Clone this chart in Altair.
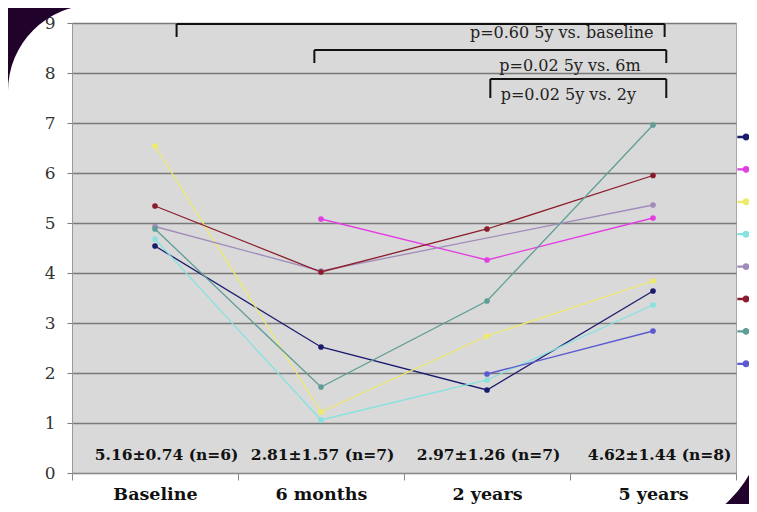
import altair as alt
import pandas as pd

categories = ["Baseline", "6 months", "2 years", "5 years"]
series_names = ["1", "2", "3", "4", "5", "6", "7", "8"]
series_colors = ["#1b1b6e", "#e23ee2", "#eeea6a", "#86e2e0", "#a08cba", "#8b1c2c", "#5f9e96", "#5a5ad0"]

s1 = [4.54, 2.52, 1.66, 3.64]
s2 = [None, 5.08, 4.26, 5.10]
s3 = [6.54, 1.22, 2.74, 3.84]
s4 = [4.68, 1.06, 1.86, 3.36]
s5 = [4.93, 4.04, None, 5.36]
s6 = [5.34, 4.02, 4.88, 5.95]
s7 = [4.88, 1.72, 3.44, 6.96]
s8 = [None, None, 1.98, 2.84]
all_series = [s1, s2, s3, s4, s5, s6, s7, s8]

stats_text = ["5.16\u00b10.74 (n=6)", "2.81\u00b11.57 (n=7)", "2.97\u00b11.26 (n=7)", "4.62\u00b11.44 (n=8)"]
stats_x = [0.07, 1.01, 2.01, 3.04]
stats_y = [0.36, 0.36, 0.36, 0.36]

p_text = ["p=0.60 5y vs. baseline", "p=0.02 5y vs. 6m", "p=0.02 5y vs. 2y"]
p_x = [2.45, 2.50, 2.49]
p_y = [8.80, 8.14, 7.56]
br_left = [0.13, 0.96, 2.02]
br_right = [3.07, 3.08, 3.08]
br_top = [8.98, 8.46, 7.88]
br_bottom = [8.72, 8.20, 7.50]

rows = []
for name, vals in zip(series_names, all_series):
    for i, v in enumerate(vals):
        if v is not None:
            rows.append({"series": name, "idx": i, "cat": categories[i], "value": v})
df = pd.DataFrame(rows)

seg = []
for l, r, t, b in zip(br_left, br_right, br_top, br_bottom):
    seg.append({"x": l, "x2": r, "y": t, "y2": t})
    seg.append({"x": l, "x2": l, "y": t, "y2": b})
    seg.append({"x": r, "x2": r, "y": t, "y2": b})
seg_df = pd.DataFrame(seg)
p_df = pd.DataFrame({"x": p_x, "y": p_y, "t": p_text})
st_df = pd.DataFrame({"x": stats_x, "y": stats_y, "t": stats_text})

FONT = "DejaVu Serif"
label_expr = ("datum.value === 0 ? 'Baseline' : datum.value === 1 ? '6 months' : "
              "datum.value === 2 ? '2 years' : datum.value === 3 ? '5 years' : ''")

xscale = alt.Scale(domain=[-0.5, 3.5], nice=False, zero=False)
yscale = alt.Scale(domain=[0, 9], nice=False)

xaxis = alt.Axis(
    values=[-0.5, 0, 0.5, 1, 1.5, 2, 2.5, 3, 3.5], labelExpr=label_expr, title=None,
    grid=False, labelOverlap=False, labelFlush=False,
    tickOpacity={"condition": {"test": "datum.value % 1 === 0", "value": 0}, "value": 1},
    tickSize=7, tickColor="#8a8a8a", domainColor="#8a8a8a",
    labelFont=FONT, labelFontWeight="bold", labelFontSize=17.5, labelColor="#111111",
    labelPadding=5,
)
yaxis = alt.Axis(
    values=list(range(10)), title=None, grid=True, gridColor="#7a7a7a", gridWidth=1.4,
    tickSize=5, tickColor="#7a7a7a", domainColor="#9a9a9a",
    labelFont=FONT, labelFontSize=17, labelColor="#333333", labelPadding=12,
)

X = alt.X("idx:Q", scale=xscale, axis=xaxis)
Y = alt.Y("value:Q", scale=yscale, axis=yaxis)

sym = ("M-1,-0.06L1,-0.06L1,0.06L-1,0.06Z "
       "M0.35,0A0.35,0.35 0 1,1 -0.35,0A0.35,0.35 0 1,1 0.35,0Z")
legend = alt.Legend(orient="none", legendX=665, legendY=105, title=None,
                    symbolType=sym, symbolSize=256, symbolStrokeWidth=1.3,
                    labelFontSize=12, rowPadding=17.4, padding=0, labelExpr="''")
cscale = alt.Scale(domain=series_names, range=series_colors)

base = alt.Chart(df)
lines = base.mark_line(strokeWidth=1.3).encode(
    x=X, y=Y,
    color=alt.Color("series:N", scale=cscale, legend=legend),
    detail="series:N", order="idx:Q",
)
points = base.mark_point(filled=True, size=32, opacity=1).encode(
    x=X, y=Y,
    color=alt.Color("series:N", scale=cscale, legend=legend),
)

brackets = alt.Chart(seg_df).mark_rule(strokeWidth=2, color="#111111").encode(
    x=alt.X("x:Q", scale=xscale), x2="x2:Q",
    y=alt.Y("y:Q", scale=yscale), y2="y2:Q",
)
ptexts = alt.Chart(p_df).mark_text(font=FONT, fontSize=16, color="#222222", baseline="middle").encode(
    x=alt.X("x:Q", scale=xscale), y=alt.Y("y:Q", scale=yscale), text="t:N",
)
stexts = alt.Chart(st_df).mark_text(font=FONT, fontSize=15.5, fontWeight="bold", color="#111111",
                                    baseline="middle").encode(
    x=alt.X("x:Q", scale=xscale), y=alt.Y("y:Q", scale=yscale), text="t:N",
)

dummy = pd.DataFrame({"a": [0]})
DARK = "#21022a"
corner_tl = alt.Chart(dummy).mark_arc(innerRadius=86, outerRadius=260, theta=4.7124, theta2=6.2832,
                                      color=DARK).encode(x=alt.value(22), y=alt.value(68))
corner_br = alt.Chart(dummy).mark_arc(innerRadius=120, outerRadius=300, theta=1.5708, theta2=3.1416,
                                      color=DARK).encode(x=alt.value(573), y=alt.value(392))

chart = alt.layer(lines, points, brackets, ptexts, stexts, corner_tl, corner_br).properties(
    width=664, height=450,
    autosize=alt.AutoSizeParams(type="none"),
    padding={"left": 64, "top": 15, "right": 13, "bottom": 31},
    background="#ffffff",
).configure_view(fill="#d9d9d9", stroke="#a8a8a8")

chart.save("out.html", embed_options={"renderer": "svg", "actions": False})
